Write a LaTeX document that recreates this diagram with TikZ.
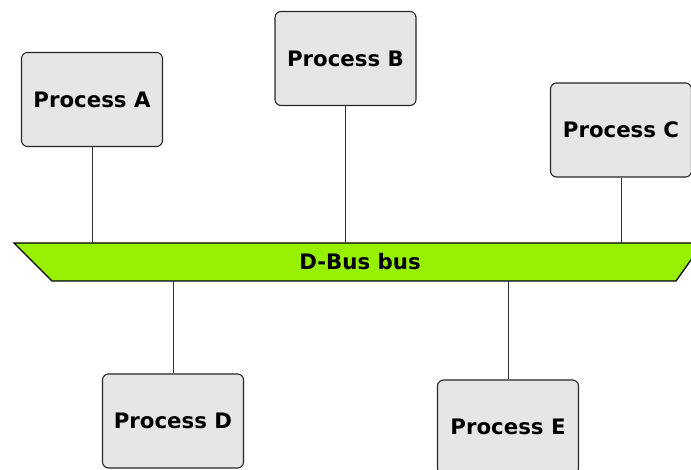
\documentclass[tikz,border=0pt]{standalone}
\usepackage{fontspec}
\setmainfont{DejaVu Sans}
\usetikzlibrary{positioning}
\definecolor{busgreen}{RGB}{150,240,0}
\definecolor{procgray}{RGB}{230,230,230}

\begin{document}
\begin{tikzpicture}[x=1pt, y=-1pt,
  proc/.style={draw=black!85, fill=procgray, rounded corners=6pt,
    line width=1.1pt, minimum width=141pt, minimum height=94pt,
    font=\bfseries\fontsize{21.3}{25}\selectfont},
  buslabel/.style={inner sep=0pt, minimum width=600pt, minimum height=38pt,
    font=\bfseries\fontsize{21.3}{25}\selectfont},
  tap/.style={draw=black!80, line width=0.6pt}]
\clip (0,0) rectangle (691,470);
% the bus itself
\path[draw=black, line width=1.3pt, fill=busgreen]
  (14,243) -- (703,243) -- (676,281) -- (52,281) -- cycle;
\node (bus) [buslabel] at (360,262) {D-Bus bus};
% processes above and below
\node (pa) [proc] at (92,99.5) {Process A};
\node (pb) [proc] at (345.5,58.5) {Process B};
\node (pc) [proc] at (621,130) {Process C};
\node (pd) [proc] at (173,421) {Process D};
\node (pe) [proc] at (508,427) {Process E};
\draw[tap] (pa) -- (pa |- bus.north);
\draw[tap] (pb) -- (pb |- bus.north);
\draw[tap] (pc) -- (pc |- bus.north);
\draw[tap] (pd) -- (pd |- bus.south);
\draw[tap] (pe) -- (pe |- bus.south);
\end{tikzpicture}
\end{document}
